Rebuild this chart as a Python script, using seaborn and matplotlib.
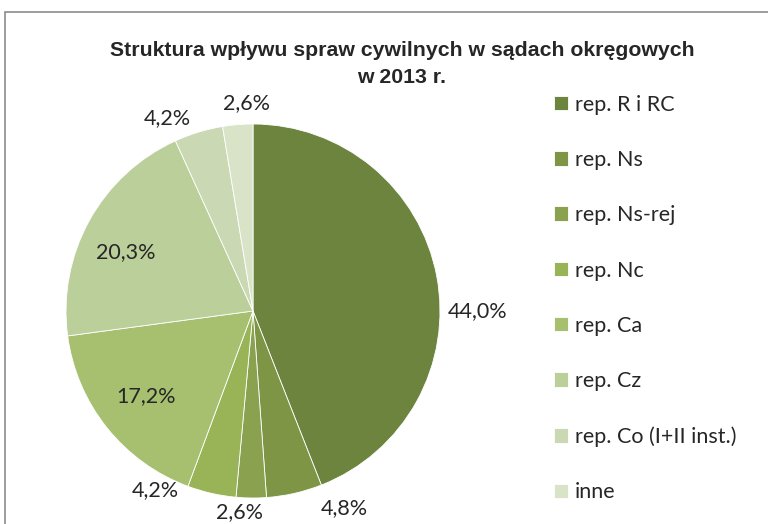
import numpy as np
import seaborn as sns
import matplotlib.pyplot as plt
from matplotlib.patches import Rectangle

sns.set_theme(style="white")
plt.rcParams['font.family'] = ['Lato', 'DejaVu Sans']

categories = ['rep. R i RC', 'rep. Ns', 'rep. Ns-rej', 'rep. Nc', 'rep. Ca',
              'rep. Cz', 'rep. Co (I+II inst.)', 'inne']
shares = [44.0, 4.8, 2.6, 4.2, 17.2, 20.3, 4.2, 2.6]
colors = ['#6c843e', '#7e9546', '#8aa250', '#98b456', '#a6c070',
          '#bbcf9a', '#cad9b3', '#d9e3c8']
title = 'Struktura wpływu spraw cywilnych w sądach okręgowych\nw 2013 r.'

# label placement: radius (in pie radii) and angle nudge (deg) per slice
label_r = [1.2, 1.16, 1.08, 1.09, 0.73, 0.75, 1.13, 1.11]
label_nudge = [-10.8, 12, -3.4, -16, 0, 4, 7, -3]

W, H = 768, 524
fig = plt.figure(figsize=(W / 100, H / 100), dpi=100)

# chart frame (cropped on the right and bottom like the source)
fig.patches.append(Rectangle((5 / W, -0.1), 1.1, (H - 12) / H + 0.1,
                             transform=fig.transFigure, fill=False,
                             edgecolor='#8c8c8c', linewidth=1.2))

cx, cy, r = 253, 311, 187
ax = fig.add_axes([(cx - r) / W, (H - cy - r) / H, 2 * r / W, 2 * r / H])
wedges, _ = ax.pie(shares, colors=colors, startangle=90, counterclock=False,
                   wedgeprops=dict(edgecolor='white', linewidth=0.6))
ax.set_xlim(-1, 1)
ax.set_ylim(-1, 1)
ax.set_aspect('equal')
ax.axis('off')

for i, (w, v) in enumerate(zip(wedges, shares)):
    ang = np.deg2rad((w.theta1 + w.theta2) / 2 + label_nudge[i])
    txt = f'{v:.1f}%'.replace('.', ',')
    ax.text(label_r[i] * np.cos(ang), label_r[i] * np.sin(ang), txt,
            ha='center', va='center', fontsize=15.5, clip_on=False)

fig.text(402 / W, 1 - 64 / H, title, ha='center', va='center',
         fontsize=15.3, fontweight='bold', linespacing=1.55,
         family=['Liberation Sans', 'DejaVu Sans'])

fig.legend(wedges, categories, loc='upper left',
           bbox_to_anchor=(545 / W, 1 - 86 / H), frameon=False,
           fontsize=15.5, handlelength=0.65, handleheight=0.65,
           handletextpad=0.35, labelspacing=1.64, borderaxespad=0)

fig.savefig('out.png', dpi=100)
